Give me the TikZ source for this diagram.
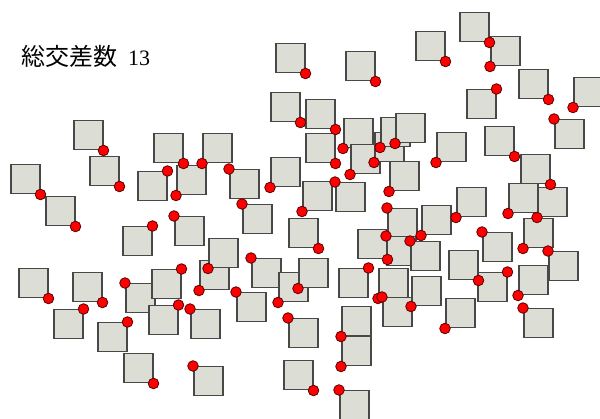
\documentclass[tikz,border=0pt]{standalone}
\usepackage{fontspec}
\usepackage{tikz}
\usepackage{xcolor}
\setmainfont{Liberation Serif}
\newfontfamily\jpfont{Noto Sans CJK JP}
\usetikzlibrary{positioning}
\definecolor{boxfill}{RGB}{220, 221, 213}
\definecolor{boxline}{RGB}{72, 72, 72}
\definecolor{dotred}{RGB}{255, 0, 0}
\definecolor{dotline}{RGB}{90, 0, 0}

\tikzset{
  sqbox/.style={rectangle, draw=boxline, fill=boxfill, line width=1.5pt,
                minimum size=29pt, inner sep=0pt, anchor=north west},
  reddot/.style={fill=dotred, draw=dotline, line width=0.8pt}
}

% left/top corner of each square (pixels) and the corner with the dot
\newcommand\boxdata{
  73/120/south east, 153/133/south east, 202/133/south west,
  89/156/south east, 10/164/south east, 45/196/south east,
  137/171/north east, 176/165/south west, 229/169/north west,
  270/157/south west, 242/204/north west, 122/226/north east,
  174/216/north west, 199/260/south west, 208/238/south west,
  125/283/north west, 151/269/north east, 148/305/north east,
  190/309/north west, 236/292/north west, 72/272/south east,
  97/322/north east, 18/268/south east, 53/309/north east,
  123/353/south east, 193/366/north west, 251/258/north west,
  278/272/south west, 298/258/south west, 288/318/north west,
  283/360/south east, 341/306/south west, 341/336/south west,
  339/390/north west, 338/268/north east, 378/268/south west,
  382/297/north west, 387/208/north west, 421/205/south west,
  357/229/south east, 386/236/north west, 410/241/north west,
  411/276/south west, 448/250/south east, 456/187/south west,
  436/132/south west, 484/126/south east, 520/154/south east,
  508/183/south west, 537/187/south west, 523/218/south west,
  548/251/north west, 482/232/north west, 477/272/north east,
  518/265/south west, 445/298/south west, 523/308/north west,
  459/12/south east, 490/36/south west, 415/31/south east,
  466/89/north east, 518/69/south east, 573/77/south west,
  554/119/north west, 275/43/south east, 345/51/south east,
  270/92/south east, 305/99/south east, 305/133/south east,
  343/118/south west, 350/144/south west, 374/132/south west,
  380/117/south west, 395/113/south west, 389/161/south west,
  335/182/north west, 302/181/south west, 288/218/south east}

\begin{document}
\begin{tikzpicture}[x=1pt, y=-1pt]
\useasboundingbox (0,0) rectangle (600,419);

% title
\node[anchor=base west, inner sep=0pt, font=\fontsize{22}{26}\selectfont]
  (title) at (21,66) {{\jpfont\fontsize{24}{28}\selectfont 総交差数}\hspace{11pt}13};

% squares
\foreach \px/\py/\c [count=\i] in \boxdata {
  \node[sqbox] (sq\i) at (\px,\py) {};
}

% dots on the corners
\foreach \px/\py/\c [count=\i] in \boxdata {
  \filldraw[reddot] (sq\i.\c) circle (5.3pt);
}

\end{tikzpicture}
\end{document}
